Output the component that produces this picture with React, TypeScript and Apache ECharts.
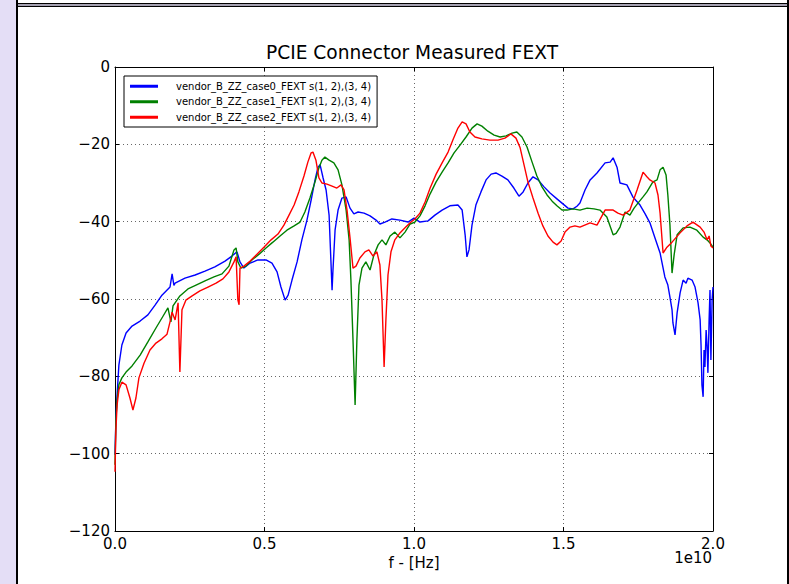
import React, { useEffect, useRef } from "react";
import * as echarts from "echarts";

const FONT = "'DejaVu Sans', 'Liberation Sans', sans-serif";

const chartTitle = "PCIE Connector Measured FEXT";
const xAxisTitle = "f - [Hz]";
const xOffsetText = "1e10";
const seriesNames = [
  "vendor_B_ZZ_case0_FEXT s(1, 2),(3, 4)",
  "vendor_B_ZZ_case1_FEXT s(1, 2),(3, 4)",
  "vendor_B_ZZ_case2_FEXT s(1, 2),(3, 4)",
];
const seriesColors = ["#0000ff", "#008000", "#ff0000"];

// frequency in units of 1e10 Hz, FEXT in dB
const case0: [number, number][] = [
  [0, -100.3], [0.003, -91.3], [0.007, -84.8], [0.013, -77.1], [0.023, -71.9], [0.037, -68.8],
  [0.057, -67.0], [0.084, -65.7], [0.11, -64.1], [0.134, -61.6], [0.157, -59.0], [0.184, -56.9],
  [0.191, -53.5], [0.197, -56.5], [0.201, -55.9], [0.234, -54.6], [0.268, -53.8], [0.301, -52.8],
  [0.334, -51.7], [0.368, -50.2], [0.391, -48.9], [0.408, -47.8], [0.418, -50.4], [0.431, -52.0],
  [0.452, -50.7], [0.478, -49.9], [0.505, -49.9], [0.525, -50.7], [0.542, -53.0], [0.555, -56.9],
  [0.569, -60.3], [0.579, -59.0], [0.592, -55.1], [0.609, -50.4], [0.625, -44.7], [0.642, -39.6],
  [0.656, -34.4], [0.669, -29.2], [0.679, -25.9], [0.686, -25.3], [0.696, -28.7], [0.706, -31.8],
  [0.716, -38.3], [0.722, -49.9], [0.726, -57.7], [0.729, -52.5], [0.736, -42.2], [0.746, -37.0],
  [0.759, -33.9], [0.773, -33.6], [0.786, -36.5], [0.799, -38.0], [0.813, -37.5], [0.833, -37.8],
  [0.853, -38.5], [0.873, -39.6], [0.886, -40.6], [0.903, -40.1], [0.926, -39.3], [0.953, -39.6],
  [0.98, -40.1], [1.0, -39.1], [1.02, -40.1], [1.047, -39.8], [1.07, -38.3], [1.094, -37.0],
  [1.12, -35.9], [1.147, -35.7], [1.161, -37.0], [1.171, -43.4], [1.177, -49.1], [1.184, -47.3],
  [1.194, -40.9], [1.207, -35.7], [1.224, -32.3], [1.241, -29.2], [1.258, -27.7], [1.274, -27.4],
  [1.294, -28.2], [1.314, -29.2], [1.334, -31.3], [1.351, -33.4], [1.365, -32.3], [1.381, -30.0],
  [1.398, -28.4], [1.415, -29.2], [1.435, -31.0], [1.455, -32.6], [1.478, -34.1], [1.498, -35.4],
  [1.515, -36.5], [1.532, -36.7], [1.545, -36.0], [1.555, -35.2], [1.572, -31.8], [1.589, -29.2],
  [1.612, -27.4], [1.639, -24.8], [1.656, -24.6], [1.666, -23.5], [1.679, -25.9], [1.689, -30.0],
  [1.712, -30.5], [1.732, -33.6], [1.756, -35.7], [1.773, -38.0], [1.789, -40.3], [1.806, -44.2],
  [1.823, -48.1], [1.839, -54.3], [1.849, -56.4], [1.856, -59.5], [1.863, -62.8], [1.866, -66.2],
  [1.873, -69.3], [1.88, -63.6], [1.89, -58.4], [1.9, -55.1], [1.91, -55.9], [1.916, -54.6],
  [1.93, -55.1], [1.94, -56.9], [1.95, -61.0], [1.957, -65.4], [1.96, -71.9], [1.963, -82.2],
  [1.967, -85.3], [1.97, -73.2], [1.973, -77.6], [1.977, -68.0], [1.98, -71.9], [1.983, -79.1],
  [1.987, -65.4], [1.99, -57.7], [1.993, -75.8], [1.997, -60.3], [2.0, -56.9],
];

const case1: [number, number][] = [
  [0, -102.9], [0.003, -91.3], [0.007, -86.1], [0.013, -82.2], [0.023, -80.4], [0.037, -78.9],
  [0.057, -77.3], [0.084, -74.5], [0.11, -71.1], [0.137, -67.5], [0.161, -64.4], [0.177, -62.3],
  [0.187, -65.9], [0.194, -61.8], [0.217, -59.2], [0.244, -57.4], [0.271, -56.4], [0.301, -55.3],
  [0.331, -54.3], [0.358, -53.5], [0.381, -51.5], [0.398, -47.3], [0.405, -46.8], [0.411, -50.4],
  [0.421, -52.0], [0.438, -51.5], [0.458, -49.9], [0.482, -48.4], [0.505, -46.8], [0.528, -45.3],
  [0.552, -43.7], [0.575, -42.2], [0.599, -41.1], [0.619, -40.1], [0.635, -37.5], [0.652, -33.9],
  [0.669, -29.7], [0.682, -26.1], [0.692, -24.1], [0.702, -23.3], [0.716, -24.1], [0.732, -24.8],
  [0.746, -26.6], [0.759, -30.5], [0.773, -37.0], [0.783, -44.7], [0.789, -55.1], [0.796, -70.6],
  [0.803, -87.4], [0.809, -70.6], [0.816, -56.4], [0.826, -52.0], [0.839, -50.4], [0.853, -52.5],
  [0.866, -48.6], [0.88, -46.0], [0.893, -44.7], [0.906, -46.0], [0.92, -43.7], [0.936, -42.7],
  [0.953, -44.2], [0.97, -42.7], [0.987, -40.6], [1.003, -40.1], [1.02, -38.5], [1.037, -35.9],
  [1.054, -32.8], [1.074, -29.7], [1.094, -27.2], [1.114, -24.8], [1.134, -22.2], [1.154, -20.2],
  [1.174, -18.1], [1.194, -15.8], [1.211, -14.7], [1.227, -15.3], [1.247, -16.6], [1.268, -17.6],
  [1.288, -18.1], [1.308, -17.8], [1.328, -17.1], [1.344, -16.8], [1.361, -18.1], [1.378, -20.7],
  [1.395, -24.6], [1.411, -28.2], [1.428, -31.0], [1.445, -33.1], [1.462, -34.7], [1.478, -35.9],
  [1.495, -37.0], [1.512, -37.0], [1.532, -36.7], [1.555, -37.0], [1.579, -36.5], [1.602, -36.7],
  [1.622, -37.0], [1.645, -38.8], [1.666, -43.4], [1.676, -43.0], [1.689, -41.4], [1.706, -37.5],
  [1.722, -38.3], [1.736, -36.5], [1.749, -35.2], [1.766, -33.6], [1.779, -32.3], [1.799, -29.7],
  [1.813, -29.2], [1.823, -26.6], [1.833, -25.9], [1.843, -27.9], [1.849, -33.1], [1.856, -40.9],
  [1.863, -53.3], [1.87, -48.6], [1.88, -43.4], [1.9, -41.6], [1.923, -41.4], [1.946, -42.2],
  [1.967, -44.0], [1.98, -44.7], [1.99, -45.5], [2.0, -46.6],
];

const case2: [number, number][] = [
  [0, -104.7], [0.003, -93.9], [0.007, -87.4], [0.013, -83.5], [0.023, -81.5], [0.037, -82.2],
  [0.05, -85.6], [0.06, -88.7], [0.07, -85.6], [0.08, -80.4], [0.097, -76.6], [0.117, -73.2],
  [0.137, -71.4], [0.157, -70.3], [0.174, -69.1], [0.184, -65.9], [0.191, -63.4], [0.201, -65.4],
  [0.211, -61.0], [0.217, -78.9], [0.224, -62.8], [0.237, -60.3], [0.258, -59.2], [0.284, -57.9],
  [0.311, -56.9], [0.338, -55.9], [0.361, -54.8], [0.381, -53.0], [0.398, -50.4], [0.405, -49.1],
  [0.411, -60.3], [0.415, -61.5], [0.418, -52.0], [0.431, -51.5], [0.452, -50.2], [0.475, -48.4],
  [0.498, -46.6], [0.522, -44.7], [0.545, -43.2], [0.565, -40.9], [0.582, -38.3], [0.599, -35.7],
  [0.615, -32.3], [0.632, -28.2], [0.645, -24.6], [0.656, -22.2], [0.662, -22.0], [0.672, -24.1],
  [0.682, -28.7], [0.692, -30.0], [0.709, -30.3], [0.726, -30.8], [0.742, -31.3], [0.756, -30.5],
  [0.766, -31.8], [0.776, -37.0], [0.786, -44.2], [0.796, -52.0], [0.806, -51.5], [0.819, -49.4],
  [0.836, -47.8], [0.849, -47.3], [0.863, -48.9], [0.876, -47.8], [0.886, -51.2], [0.893, -60.3],
  [0.9, -77.6], [0.906, -65.4], [0.913, -53.8], [0.923, -47.8], [0.936, -44.7], [0.953, -42.9],
  [0.97, -41.6], [0.987, -40.3], [1.003, -39.3], [1.02, -37.8], [1.037, -34.9], [1.054, -31.3],
  [1.074, -27.7], [1.094, -24.8], [1.114, -22.0], [1.13, -18.9], [1.147, -15.8], [1.161, -14.2],
  [1.174, -14.7], [1.187, -16.8], [1.204, -18.1], [1.227, -18.6], [1.254, -18.9], [1.281, -18.9],
  [1.304, -18.4], [1.324, -17.3], [1.341, -18.4], [1.355, -20.9], [1.368, -25.3], [1.381, -29.7],
  [1.398, -33.9], [1.415, -37.8], [1.431, -41.1], [1.448, -43.7], [1.465, -45.3], [1.478, -46.0],
  [1.492, -45.0], [1.505, -42.7], [1.522, -41.4], [1.538, -41.1], [1.555, -41.4], [1.589, -40.3],
  [1.612, -40.9], [1.639, -37.0], [1.666, -37.0], [1.682, -37.8], [1.699, -38.3], [1.722, -37.0],
  [1.746, -31.8], [1.766, -27.2], [1.779, -28.4], [1.789, -29.2], [1.806, -30.0], [1.816, -33.1],
  [1.823, -37.8], [1.833, -48.1], [1.846, -46.6], [1.863, -45.3], [1.89, -42.9], [1.913, -41.1],
  [1.933, -40.1], [1.957, -41.4], [1.97, -42.7], [1.98, -44.7], [1.987, -43.7], [1.993, -46.3],
  [2.0, -46.8],
];

const seriesData = [case0, case1, case2];

const xTicks = { min: 0, max: 2, step: 0.5 };
const yTicks = { min: -120, max: 0, step: 20 };

const tickFmtY = (v: number) => (v < 0 ? "\u2212" + Math.abs(v) : String(v));
const tickFmtX = (v: number) => v.toFixed(1);

export default function App() {
  const ref = useRef<HTMLDivElement>(null);

  useEffect(() => {
    if (!ref.current) return;
    const chart = echarts.init(ref.current, null, { renderer: "svg" });

    const gridLine = { show: true, lineStyle: { color: "#000", width: 0.6, type: [1, 3] as any } };
    const frameLine = { show: true, onZero: false, lineStyle: { color: "#000", width: 1 } };
    const insideTick = { show: true, inside: true, length: 4, lineStyle: { color: "#000", width: 1 } };
    const tickFont = { fontFamily: FONT, fontSize: 15, color: "#000" };

    chart.setOption({
      animation: false,
      backgroundColor: "#fff",
      grid: { left: 115, right: 76, top: 67, bottom: 53, containLabel: false },
      graphic: [
        { type: "rect", shape: { x: 0, y: 0, width: 16, height: 584 }, style: { fill: "#e4def6" }, silent: true },
        { type: "rect", shape: { x: 16, y: 0, width: 2, height: 584 }, style: { fill: "#000" }, silent: true },
        { type: "rect", shape: { x: 16, y: 3, width: 773, height: 1.5 }, style: { fill: "#000" }, silent: true },
        { type: "rect", shape: { x: 18, y: 4.5, width: 771, height: 1.2 }, style: { fill: "#cdc6e4" }, silent: true },
        { type: "rect", shape: { x: 17, y: 5.7, width: 772, height: 1.4 }, style: { fill: "#000" }, silent: true },
        { type: "rect", shape: { x: 787, y: 0, width: 2, height: 584 }, style: { fill: "#000" }, silent: true },
        {
          type: "text", x: 412, y: 52, silent: true,
          style: { text: chartTitle, fontFamily: FONT, fontSize: 18.6, fill: "#000", align: "center", verticalAlign: "middle" },
        },
        {
          type: "text", x: 712, y: 558, silent: true,
          style: { text: xOffsetText, fontFamily: FONT, fontSize: 15, fill: "#000", align: "right", verticalAlign: "middle" },
        },
      ],
      legend: {
        orient: "vertical",
        left: 124,
        top: 76,
        padding: [4.5, 6, 4, 6],
        itemWidth: 28,
        itemHeight: 3,
        itemGap: 4,
        icon: "rect",
        backgroundColor: "#fff",
        borderColor: "#000",
        borderWidth: 1,
        borderRadius: 0,
        textStyle: { fontFamily: FONT, fontSize: 10, color: "#000", lineHeight: 11.5, padding: [0, 0, 0, 13] },
        data: seriesNames,
      },
      xAxis: [
        {
          type: "value", position: "bottom", min: xTicks.min, max: xTicks.max, interval: xTicks.step,
          axisLine: frameLine, axisTick: insideTick, splitLine: gridLine,
          axisLabel: { ...tickFont, margin: 5, formatter: tickFmtX },
          name: xAxisTitle, nameLocation: "middle", nameGap: 24,
          nameTextStyle: { fontFamily: FONT, fontSize: 15, color: "#000" },
        },
        {
          type: "value", position: "top", min: xTicks.min, max: xTicks.max, interval: xTicks.step,
          axisLine: frameLine, axisTick: insideTick, splitLine: { show: false }, axisLabel: { show: false },
        },
      ],
      yAxis: [
        {
          type: "value", position: "left", min: yTicks.min, max: yTicks.max, interval: yTicks.step,
          axisLine: frameLine, axisTick: insideTick, splitLine: gridLine,
          axisLabel: { ...tickFont, margin: 5, formatter: tickFmtY },
        },
        {
          type: "value", position: "right", min: yTicks.min, max: yTicks.max, interval: yTicks.step,
          axisLine: frameLine, axisTick: insideTick, splitLine: { show: false }, axisLabel: { show: false },
        },
      ],
      series: seriesNames.map((name, i) => ({
        name,
        type: "line",
        xAxisIndex: 0,
        yAxisIndex: 0,
        data: seriesData[i],
        showSymbol: false,
        symbol: "none",
        color: seriesColors[i],
        lineStyle: { color: seriesColors[i], width: 1.4 },
        z: 2,
      })),
    });

    return () => chart.dispose();
  }, []);

  return (
    <div
      ref={ref}
      style={{ position: "fixed", left: 0, top: 0, width: 789, height: 584, background: "#fff" }}
    />
  );
}
